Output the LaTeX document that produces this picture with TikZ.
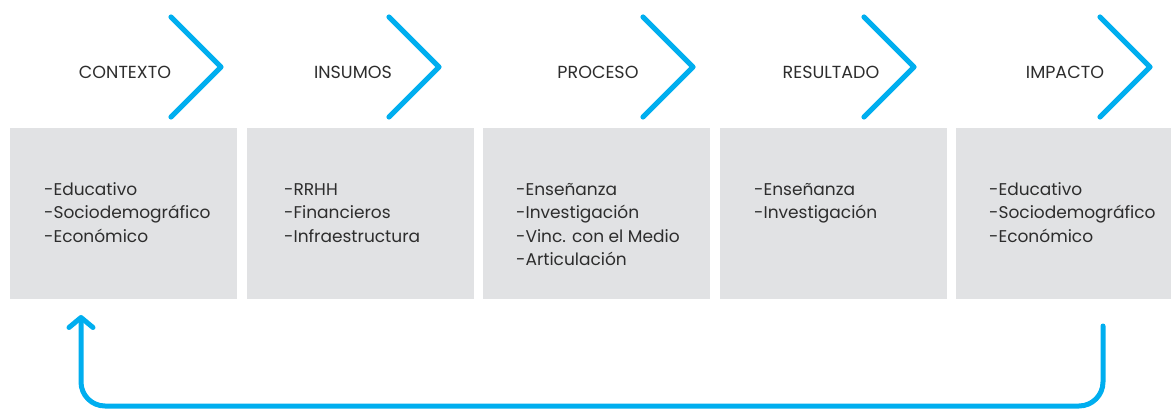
\documentclass[tikz,border=0pt]{standalone}
\usepackage{fontspec}
\setmainfont{Poppins}
\usetikzlibrary{arrows.meta}
\definecolor{cblue}{RGB}{0,174,239}
\definecolor{cgray}{RGB}{225,226,228}
\definecolor{ctext}{RGB}{45,45,45}
\newcommand{\firstln}{\rule{0pt}{14pt}}
\tikzset{
  boxnode/.style={fill=cgray, draw=none, anchor=north west, minimum height=171pt, inner sep=0pt},
  listtxt/.style={anchor=north west, align=left, inner sep=0pt, text=ctext, font=\fontsize{17}{23.5}\selectfont},
  headtxt/.style={text=ctext, inner sep=0pt, font=\fontsize{17.5}{20}\selectfont},
  chev/.style={cblue, line width=5.2pt, line cap=round, line join=round},
  loop/.style={cblue, line width=5pt, line cap=round, rounded corners=24pt,
    -{Straight Barb[length=10pt, width=24pt, line cap=round, line join=round]}},
}
\begin{document}
\begin{tikzpicture}[x=1pt,y=-1pt]
\useasboundingbox (0,0) rectangle (1171,409);
% boxes
\node[boxnode, minimum width=227pt] (b1) at (10,128) {};
\node[boxnode, minimum width=227pt] (b2) at (247,128) {};
\node[boxnode, minimum width=227pt] (b3) at (483,128) {};
\node[boxnode, minimum width=227pt] (b4) at (720,128) {};
\node[boxnode, minimum width=215pt] (b5) at (956,128) {};
% list texts
\node[listtxt] (t1) at (44,181) {\firstln-Educativo\\-Sociodemográfico\\-Económico};
\node[listtxt] (t2) at (284,181) {\firstln-RRHH\\-Financieros\\-Infraestructura};
\node[listtxt] (t3) at (516,181) {\firstln-Enseñanza\\-Investigación\\-Vinc. con el Medio\\-Articulación};
\node[listtxt] (t4) at (754,181) {\firstln-Enseñanza\\-Investigación};
\node[listtxt] (t5) at (989,181) {\firstln-Educativo\\-Sociodemográfico\\-Económico};
% headers
\node[headtxt] (h1) at (125,72) {CONTEXTO};
\node[headtxt] (h2) at (353,72) {INSUMOS};
\node[headtxt] (h3) at (598,72) {PROCESO};
\node[headtxt] (h4) at (831,72) {RESULTADO};
\node[headtxt] (h5) at (1065,72) {IMPACTO};
% chevrons
\draw[chev] (171,17) -- (221,67) -- (171,117);
\draw[chev] (389,17) -- (439,67) -- (389,117);
\draw[chev] (643,17) -- (693,67) -- (643,117);
\draw[chev] (864,17) -- (914,67) -- (864,117);
\draw[chev] (1100,17) -- (1150,67) -- (1100,117);
% feedback loop
\coordinate (ls) at (1103,326);
\coordinate (lc1) at (1103,406);
\coordinate (lc2) at (81,406);
\coordinate (le) at (81,315);
\draw[loop] (ls) -- (lc1) -- (lc2) -- (le);
\end{tikzpicture}
\end{document}
